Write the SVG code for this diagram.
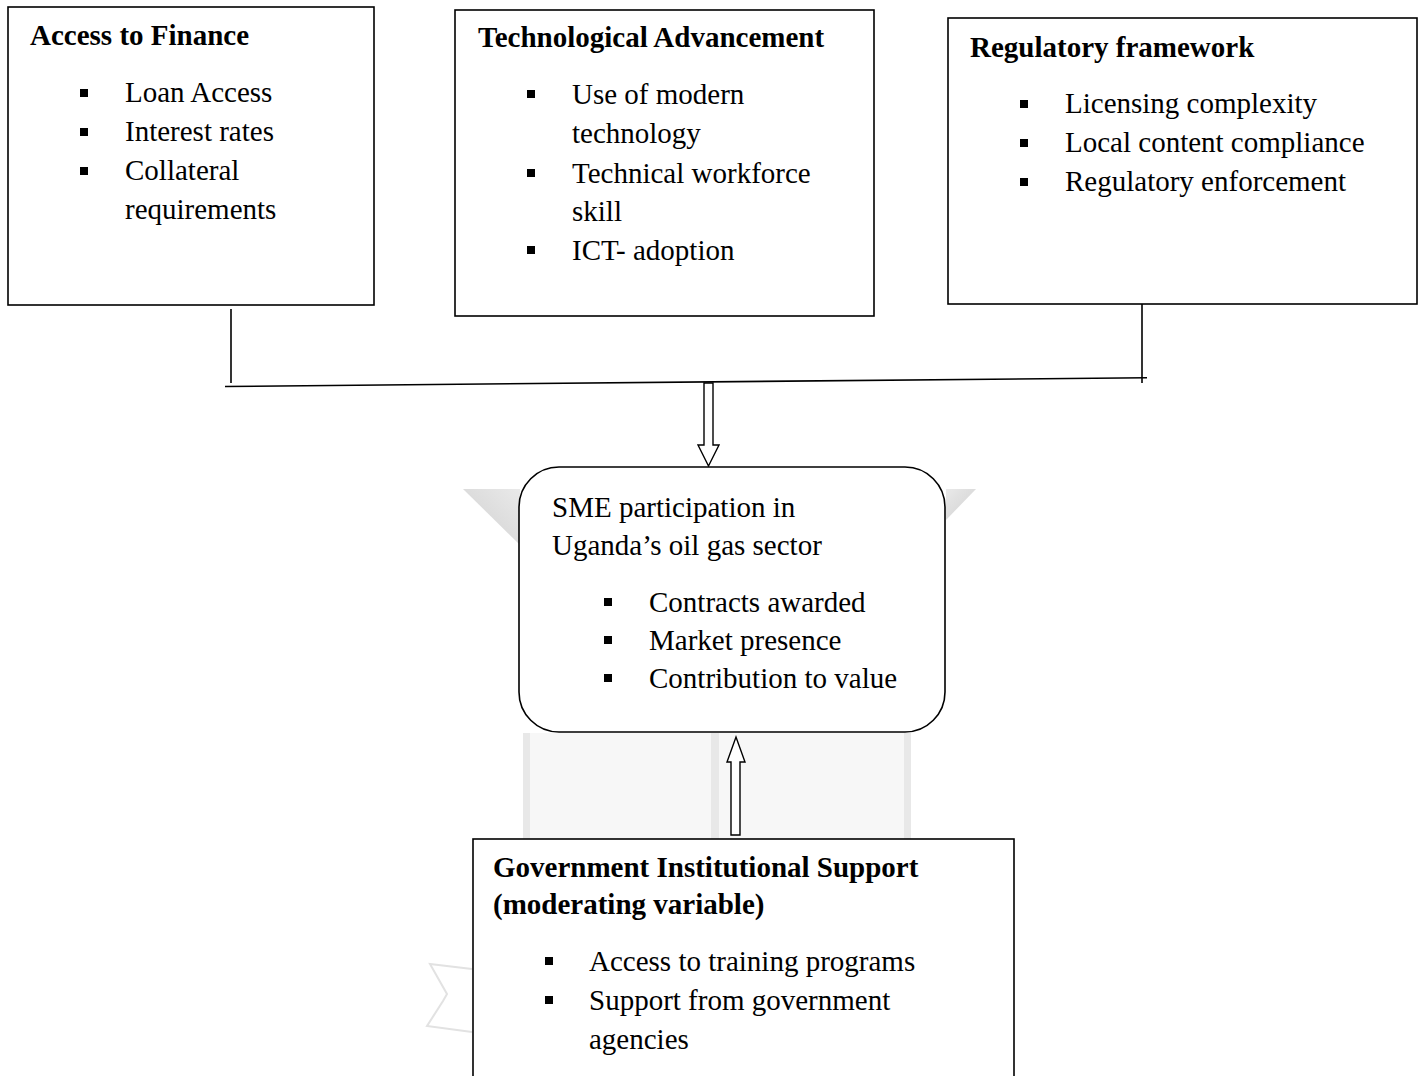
<svg xmlns="http://www.w3.org/2000/svg" width="1424" height="1076" viewBox="0 0 1424 1076">
<style>
.box{fill:#fff;stroke:#000;stroke-width:1.6}
.t{font-family:"Liberation Serif","Times New Roman",serif;font-size:29px;fill:#000}
.b{font-weight:bold}
.bul{fill:#000}
.ln{stroke:#000;stroke-width:1.6;fill:none}
.arr{fill:#fff;stroke:#000;stroke-width:1.4;stroke-linejoin:miter}
.wml{fill:none;stroke:#e2e2e2;stroke-width:2}
</style>
<defs>
  <linearGradient id="wgL" x1="0" y1="0" x2="1" y2="-1" gradientUnits="objectBoundingBox">
    <stop offset="0" stop-color="#dcdcdc"/>
    <stop offset="1" stop-color="#f7f7f7"/>
  </linearGradient>
  <linearGradient id="wgR" x1="1" y1="0" x2="0" y2="-1" gradientUnits="objectBoundingBox">
    <stop offset="0" stop-color="#dcdcdc"/>
    <stop offset="1" stop-color="#f7f7f7"/>
  </linearGradient>
</defs>
<rect x="0" y="0" width="1424" height="1076" fill="#fff"/>
<g id="watermark">
  <polygon fill="url(#wgL)" points="463,489 520,489 520,545"/>
  <polygon fill="url(#wgR)" points="946,489 976,489 946,520"/>
  <rect x="523" y="733" width="388" height="106" fill="#f7f7f7"/>
  <rect x="523" y="733" width="7" height="106" fill="#e8e8e8"/>
  <rect x="711" y="733" width="8" height="106" fill="#e8e8e8"/>
  <rect x="904" y="733" width="7" height="106" fill="#e8e8e8"/>
  <polyline class="wml" points="472,969 430,964 447,994 443,1001 427,1026 472,1032"/>
</g>
<g id="connectors">
  <line class="ln" x1="231" y1="309" x2="231" y2="383"/>
  <line class="ln" x1="1142" y1="302" x2="1142" y2="383"/>
  <line class="ln" x1="225" y1="386.5" x2="1147" y2="377.7"/>
  <polygon class="arr" points="704,383 713,383 713,445 719,445 708.5,466 698,445 704,445"/>
  <polygon class="arr" points="731,835 740,835 740,762 745,762 736,737 727,762 731,762"/>
</g>
<g id="access-to-finance">
  <rect class="box" x="8" y="7" width="366" height="298"/>
  <text class="t b" x="30" y="45">Access to Finance</text>
  <rect class="bul" x="80" y="89" width="8" height="8"/>
  <text class="t" x="125" y="102">Loan Access</text>
  <rect class="bul" x="80" y="128" width="8" height="8"/>
  <text class="t" x="125" y="141">Interest rates</text>
  <rect class="bul" x="80" y="167" width="8" height="8"/>
  <text class="t" x="125" y="180">Collateral</text>
  <text class="t" x="125" y="219">requirements</text>
</g>
<g id="technological-advancement">
  <rect class="box" x="455" y="10" width="419" height="306"/>
  <text class="t b" x="478" y="47">Technological Advancement</text>
  <rect class="bul" x="527" y="90" width="8" height="8"/>
  <text class="t" x="572" y="104">Use of modern</text>
  <text class="t" x="572" y="143">technology</text>
  <rect class="bul" x="527" y="169" width="8" height="8"/>
  <text class="t" x="572" y="183">Technical workforce</text>
  <text class="t" x="572" y="221">skill</text>
  <rect class="bul" x="527" y="246" width="8" height="8"/>
  <text class="t" x="572" y="260">ICT- adoption</text>
</g>
<g id="regulatory-framework">
  <rect class="box" x="948" y="18" width="469" height="286"/>
  <text class="t b" x="970" y="57">Regulatory framework</text>
  <rect class="bul" x="1020" y="100" width="8" height="8"/>
  <text class="t" x="1065" y="113">Licensing complexity</text>
  <rect class="bul" x="1020" y="139" width="8" height="8"/>
  <text class="t" x="1065" y="152">Local content compliance</text>
  <rect class="bul" x="1020" y="178" width="8" height="8"/>
  <text class="t" x="1065" y="191">Regulatory enforcement</text>
</g>
<g id="sme-participation">
  <rect class="box" x="519" y="467" width="426" height="265" rx="40" ry="40"/>
  <text class="t" x="552" y="517">SME participation in</text>
  <text class="t" x="552" y="555">Uganda’s oil gas sector</text>
  <rect class="bul" x="604" y="598" width="8" height="8"/>
  <text class="t" x="649" y="612">Contracts awarded</text>
  <rect class="bul" x="604" y="636" width="8" height="8"/>
  <text class="t" x="649" y="650">Market presence</text>
  <rect class="bul" x="604" y="674" width="8" height="8"/>
  <text class="t" x="649" y="688">Contribution to value</text>
</g>
<g id="government-support">
  <rect class="box" x="473" y="839" width="541" height="260"/>
  <text class="t b" x="493" y="877">Government Institutional Support</text>
  <text class="t b" x="493" y="914">(moderating variable)</text>
  <rect class="bul" x="545" y="957" width="8" height="8"/>
  <text class="t" x="589" y="971">Access to training programs</text>
  <rect class="bul" x="545" y="996" width="8" height="8"/>
  <text class="t" x="589" y="1010">Support from government</text>
  <text class="t" x="589" y="1049">agencies</text>
</g>
</svg>
